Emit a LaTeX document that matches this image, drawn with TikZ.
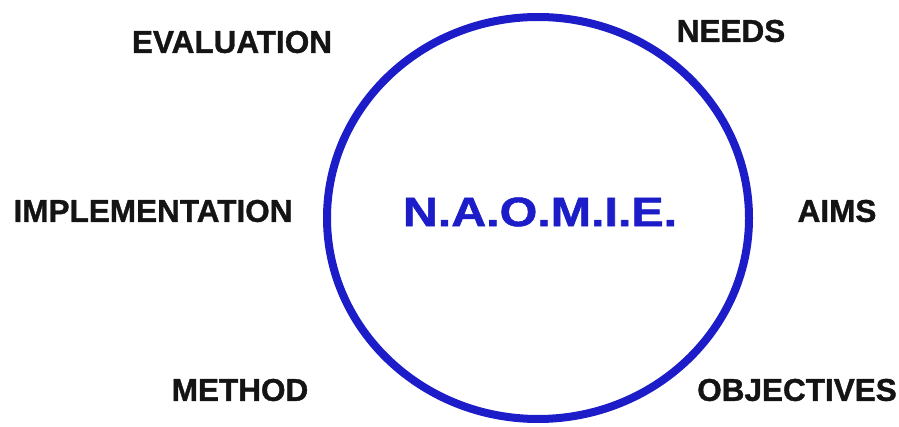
\documentclass[tikz,border=0pt]{standalone}
\usepackage{fontspec}
\setmainfont{Liberation Sans}[BoldFeatures={FakeBold=1.2}]
\usetikzlibrary{positioning}
\definecolor{royal}{RGB}{28,28,200}
\definecolor{ink}{RGB}{20,20,20}
\tikzset{
  ring/.style={draw=royal,line width=8pt},
  stage/.style={font=\fontsize{31.5}{33}\selectfont\bfseries,text=ink,inner sep=0pt,anchor=center},
  hub/.style={font=\fontsize{41}{43}\selectfont\bfseries,text=royal,inner sep=0pt,
    xscale=1.18,transform shape},
}
\begin{document}
\begin{tikzpicture}[x=1pt,y=-1pt]
    \useasboundingbox (0,0) rectangle (899,427);
    \draw[ring] (538,218) ellipse [x radius=211,y radius=201];
    \node[hub] (naomie) at (540,212) {N.A.O.M.I.E.};
    \foreach \x/\y/\t/\n in {731/31/NEEDS/needs,837/211/AIMS/aims,797/390/OBJECTIVES/objectives,
      240/390/METHOD/method,153/211/IMPLEMENTATION/implementation,232/42/EVALUATION/evaluation}{
      \node[stage] (\n) at (\x,\y) {\t};
    }
  \end{tikzpicture}
\end{document}
